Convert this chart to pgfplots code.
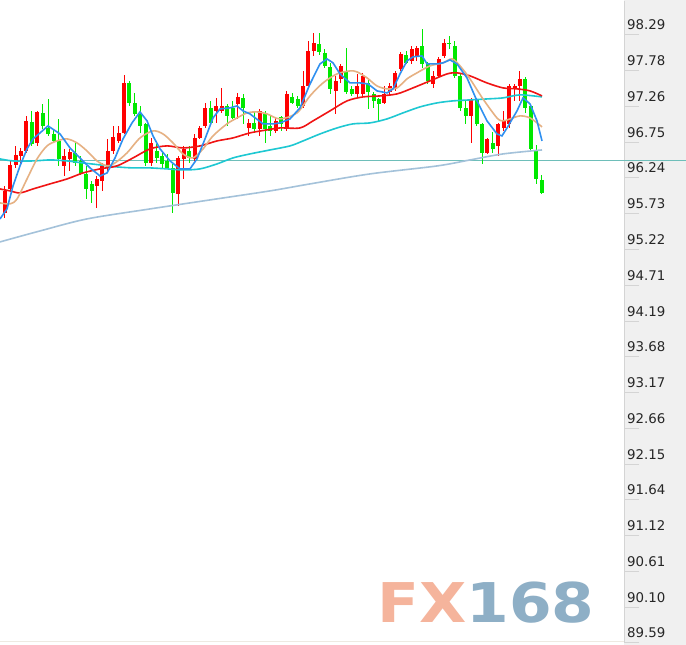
\documentclass[border=0pt]{standalone}
\usepackage{pgfplots}
\pgfplotsset{compat=1.18}
\usepackage{pgfplotstable}
\usepackage{fontspec}
\setmainfont{DejaVu Sans}
\definecolor{upred}{RGB}{255,0,0}
\definecolor{dngreen}{RGB}{0,232,0}
\definecolor{mablue}{RGB}{46,143,240}
\definecolor{matan}{RGB}{230,177,131}
\definecolor{mared}{RGB}{240,20,20}
\definecolor{macyan}{RGB}{30,200,210}
\definecolor{masteel}{RGB}{164,194,218}
\definecolor{hline}{RGB}{110,190,185}
\definecolor{panel}{RGB}{240,240,240}
\definecolor{panelline}{RGB}{212,212,212}
\definecolor{fxsalmon}{RGB}{245,180,156}
\definecolor{fxblue}{RGB}{142,175,198}

\pgfplotstableread{
i O H L C
0 95.74 96.13 95.67 96.06
1 96.09 96.49 96.06 96.43
2 96.43 96.70 96.39 96.57
3 96.56 96.67 96.46 96.63
4 96.63 97.13 96.60 97.06
5 97.05 97.20 96.70 96.73
6 96.75 97.20 96.70 97.19
7 97.17 97.30 96.95 96.99
8 96.96 97.37 96.85 96.87
9 96.87 96.95 96.75 96.77
10 96.77 97.09 96.42 96.52
11 96.42 96.66 96.27 96.56
12 96.52 96.66 96.34 96.62
13 96.60 96.75 96.42 96.46
14 96.49 96.56 96.29 96.30
15 96.30 96.42 95.94 96.09
16 96.16 96.20 95.89 96.06
17 96.13 96.27 95.81 96.23
18 96.20 96.46 96.06 96.42
19 96.39 96.80 96.34 96.63
20 96.63 96.99 96.59 96.83
21 96.77 96.99 96.75 96.89
22 96.89 97.72 96.87 97.60
23 97.60 97.63 97.27 97.32
24 97.32 97.46 97.13 97.16
25 97.16 97.27 96.89 96.99
26 97.02 97.03 96.42 96.46
27 96.46 96.82 96.42 96.75
28 96.63 96.73 96.46 96.53
29 96.56 96.60 96.39 96.44
30 96.49 96.59 96.37 96.39
31 96.39 96.44 95.74 96.03
32 96.02 96.56 95.84 96.53
33 96.52 96.70 96.23 96.66
34 96.63 96.70 96.46 96.53
35 96.52 96.87 96.49 96.82
36 96.82 96.99 96.80 96.96
37 96.99 97.32 96.96 97.25
38 97.25 97.35 97.02 97.03
39 97.20 97.39 97.03 97.27
40 97.20 97.53 97.17 97.27
41 97.27 97.30 96.99 97.13
42 97.25 97.35 97.09 97.10
43 97.30 97.46 97.09 97.40
44 97.39 97.45 97.02 97.25
45 96.96 97.09 96.85 97.03
46 97.03 97.20 96.89 96.95
47 96.95 97.23 96.85 97.20
48 97.17 97.20 96.75 96.95
49 96.99 97.13 96.85 96.92
50 96.92 97.10 96.89 97.06
51 97.12 97.13 96.92 97.01
52 96.96 97.49 96.92 97.44
53 97.40 97.46 97.30 97.32
54 97.37 97.42 97.25 97.27
55 97.27 97.78 97.25 97.56
56 97.56 98.21 97.54 98.06
57 98.06 98.32 97.99 98.17
58 98.16 98.32 98.01 98.04
59 98.03 98.09 97.82 97.85
60 97.83 97.89 97.44 97.51
61 97.49 97.70 97.16 97.63
62 97.66 97.87 97.61 97.85
63 97.78 98.11 97.44 97.47
64 97.51 97.56 97.42 97.44
65 97.44 97.73 97.39 97.56
66 97.44 97.75 97.39 97.70
67 97.61 97.68 97.23 97.47
68 97.44 97.47 97.25 97.35
69 97.37 97.39 97.04 97.30
70 97.32 97.56 97.30 97.44
71 97.47 97.61 97.42 97.56
72 97.51 97.78 97.49 97.75
73 97.80 98.04 97.78 98.01
74 98.01 98.06 97.87 97.89
75 97.92 98.13 97.87 98.09
76 97.97 98.13 97.92 98.11
77 98.13 98.38 97.82 97.88
78 97.88 97.90 97.59 97.63
79 97.59 97.78 97.53 97.70
80 97.70 97.98 97.68 97.95
81 97.99 98.23 97.96 98.18
82 98.18 98.28 98.09 98.16
83 98.13 98.21 97.68 97.70
84 97.70 97.73 97.20 97.25
85 97.25 97.35 97.02 97.13
86 97.13 97.39 96.75 97.37
87 97.37 97.39 96.99 97.02
88 97.02 97.03 96.44 96.60
89 96.60 96.82 96.59 96.80
90 96.75 96.90 96.60 96.66
91 96.70 97.03 96.56 97.02
92 96.96 97.20 96.92 97.06
93 97.02 97.59 96.96 97.56
94 97.52 97.59 97.35 97.56
95 97.56 97.78 97.35 97.66
96 97.66 97.69 97.17 97.25
97 97.27 97.30 96.63 96.66
98 96.63 96.72 96.16 96.23
99 96.22 96.29 96.02 96.03
}\candles

\begin{document}
\begin{tikzpicture}[x=1bp,y=1bp]
\useasboundingbox (0,0) rectangle (686,645);
\fill[white] (0,0) rectangle (686,645);
\fill[panel] (624,0) rectangle (686,645);
\draw[color={rgb,255:red,238;green,234;blue,226}, line width=1bp] (0,3) -- (624,3);
\node[anchor=base west, inner sep=0pt, xscale=1.12] at (377,22)
  {\fontsize{55}{60}\selectfont\bfseries\textcolor{fxsalmon}{FX}\textcolor{fxblue}{168}};
\begin{axis}[
  at={(0,3)}, anchor=south west,
  width=624bp, height=642bp, scale only axis,
  xmin=-0.87, xmax=114.18,
  ymin=89.59, ymax=98.777,
  clip=false,
  axis x line=none,
  axis y line*=right,
  axis line style={draw=panelline,-},
  xtick=\empty,
  ytick={89.59,90.1018,90.6135,91.1253,91.6371,92.1488,92.6606,93.1724,93.6841,94.1959,94.7076,95.2194,95.7312,96.2429,96.7547,97.2665,97.7782,98.29},
  yticklabels={89.59,90.10,90.61,91.12,91.64,92.15,92.66,93.17,93.68,94.19,94.71,95.22,95.73,96.24,96.75,97.26,97.78,98.29},
  tick align=outside,
  major tick length=15bp,
  ytick style={draw=panelline, line width=1bp},
  yticklabel style={anchor=base west, inner sep=0pt, font=\fontsize{13.4}{15}\selectfont, text=black!85, xshift=-12bp, yshift=5bp},
  unbounded coords=discard,
]
% horizontal price line
\addplot[hline, line width=1bp, mark=none, forget plot] coordinates {(-0.87,96.497) (125.6,96.497)};
% wicks
\addplot[draw=none, no markers, forget plot,
  error bars/.cd, y dir=both, y explicit, error mark=none,
  error bar style={draw=upred, line width=1bp}]
  table[x=i, y expr={\thisrow{C}>=\thisrow{O} ? (\thisrow{H}+\thisrow{L})/2 : nan}, y error expr={(\thisrow{H}-\thisrow{L})/2}] {\candles};
\addplot[draw=none, no markers, forget plot,
  error bars/.cd, y dir=both, y explicit, error mark=none,
  error bar style={draw=dngreen, line width=1bp}]
  table[x=i, y expr={\thisrow{C}<\thisrow{O} ? (\thisrow{H}+\thisrow{L})/2 : nan}, y error expr={(\thisrow{H}-\thisrow{L})/2}] {\candles};
% bodies
\addplot[draw=none, no markers, forget plot,
  error bars/.cd, y dir=both, y explicit, error mark=none,
  error bar style={draw=upred, line width=4bp}]
  table[x=i, y expr={\thisrow{C}>=\thisrow{O} ? (\thisrow{O}+\thisrow{C})/2 : nan}, y error expr={max(abs(\thisrow{C}-\thisrow{O})/2,0.01)}] {\candles};
\addplot[draw=none, no markers, forget plot,
  error bars/.cd, y dir=both, y explicit, error mark=none,
  error bar style={draw=dngreen, line width=4bp}]
  table[x=i, y expr={\thisrow{C}<\thisrow{O} ? (\thisrow{O}+\thisrow{C})/2 : nan}, y error expr={max(abs(\thisrow{C}-\thisrow{O})/2,0.01)}] {\candles};
% slow MA
\addplot[masteel, line width=1.6bp, mark=none, smooth] coordinates {
(-0.87,95.328) (6.51,95.485) (15.17,95.657) (26.79,95.800) (37.85,95.929) (48.91,96.058) (56.29,96.158) (67.35,96.301) (79.70,96.415) (85.78,96.501) (91.87,96.587) (99.06,96.644)};
% cyan MA
\addplot[macyan, line width=1.6bp, mark=none, smooth] coordinates {
(-0.87,96.516) (1.53,96.487) (5.22,96.487) (8.35,96.501) (11.49,96.487) (14.44,96.458) (17.57,96.430) (20.70,96.401) (23.66,96.387) (26.79,96.387) (29.92,96.373) (32.87,96.358) (36.01,96.373) (39.14,96.444) (42.09,96.530) (45.22,96.587) (48.91,96.644) (52.60,96.702) (55.00,96.773) (58.13,96.873) (61.27,96.959) (64.21,97.017) (67.35,97.031) (70.48,97.088) (73.43,97.174) (76.57,97.260) (79.70,97.317) (82.65,97.346) (85.78,97.360) (88.92,97.374) (91.87,97.389) (95.00,97.432) (99.06,97.403)};
% red MA
\addplot[mared, line width=1.6bp, mark=none, smooth] coordinates {
(-0.87,96.086) (0.98,96.058) (2.82,96.029) (5.22,96.086) (8.35,96.158) (11.49,96.229) (14.44,96.315) (17.57,96.373) (20.70,96.416) (23.66,96.530) (26.79,96.659) (29.92,96.702) (32.87,96.673) (36.01,96.702) (39.14,96.773) (42.09,96.816) (45.22,96.888) (48.36,96.931) (50.76,96.959) (54.44,96.959) (56.84,97.060) (59.97,97.203) (63.11,97.346) (66.06,97.403) (69.19,97.417) (72.33,97.446) (75.28,97.532) (78.41,97.632) (81.55,97.732) (83.39,97.747) (85.78,97.704) (88.92,97.603) (91.87,97.532) (94.45,97.518) (96.85,97.489) (99.06,97.417)};
% tan MA
\addplot[matan, line width=1.6bp, mark=none, smooth] coordinates {
(-0.87,95.886) (0.98,95.872) (2.27,95.943) (4.11,96.229) (5.96,96.516) (7.80,96.702) (9.64,96.773) (11.49,96.802) (13.33,96.745) (15.17,96.630) (17.02,96.487) (18.86,96.416) (20.34,96.458) (22.55,96.602) (24.94,96.816) (27.34,96.916) (29.18,96.873) (31.03,96.745) (32.87,96.587) (34.72,96.530) (36.56,96.659) (38.40,96.845) (40.98,97.017) (42.83,97.102) (44.67,97.174) (46.52,97.188) (48.36,97.160) (50.76,97.088) (53.89,97.174) (56.29,97.417) (58.68,97.603) (61.27,97.732) (63.66,97.775) (64.95,97.761) (66.80,97.675) (68.64,97.560) (70.48,97.518) (72.33,97.532) (74.17,97.661) (76.01,97.747) (78.41,97.847) (80.81,97.890) (82.47,97.947) (83.94,97.847) (85.78,97.661) (88.18,97.374) (90.76,97.102) (91.87,97.060) (93.16,97.088) (95.00,97.131) (96.85,97.102) (99.06,96.974)};
% blue MA
\addplot[mablue, line width=1.6bp, mark=none] coordinates {
(-0.87,95.657) (0.42,95.800) (1.53,96.129) (2.82,96.416) (4.11,96.659) (5.22,96.802) (6.51,96.888) (7.98,96.988) (10.20,96.873) (12.04,96.673) (13.88,96.530) (15.73,96.387) (17.57,96.272) (18.86,96.315) (20.34,96.530) (21.81,96.802) (23.47,97.031) (24.94,97.188) (26.24,97.060) (27.34,96.845) (28.63,96.659) (30.48,96.487) (32.32,96.373) (34.16,96.373) (35.45,96.516) (36.93,96.802) (38.40,97.102) (39.69,97.231) (41.53,97.246) (42.82,97.274) (43.93,97.203) (45.22,97.160) (47.62,97.017) (49.47,97.017) (50.76,97.031) (52.60,97.088) (54.44,97.246) (56.29,97.589) (58.13,97.875) (59.42,97.947) (60.53,97.890) (61.82,97.732) (63.66,97.603) (65.50,97.603) (66.98,97.589) (68.64,97.489) (70.48,97.460) (71.59,97.518) (72.88,97.732) (74.17,97.918) (75.28,97.976) (76.94,97.990) (77.86,97.875) (79.70,97.875) (80.81,97.890) (82.10,97.933) (83.39,97.875) (85.23,97.675) (87.07,97.346) (88.92,97.060) (90.76,96.873) (91.68,96.845) (92.61,96.959) (94.45,97.203) (95.56,97.389) (96.85,97.303) (98.14,97.060) (99.06,96.773)};
\end{axis}
\end{tikzpicture}
\end{document}
